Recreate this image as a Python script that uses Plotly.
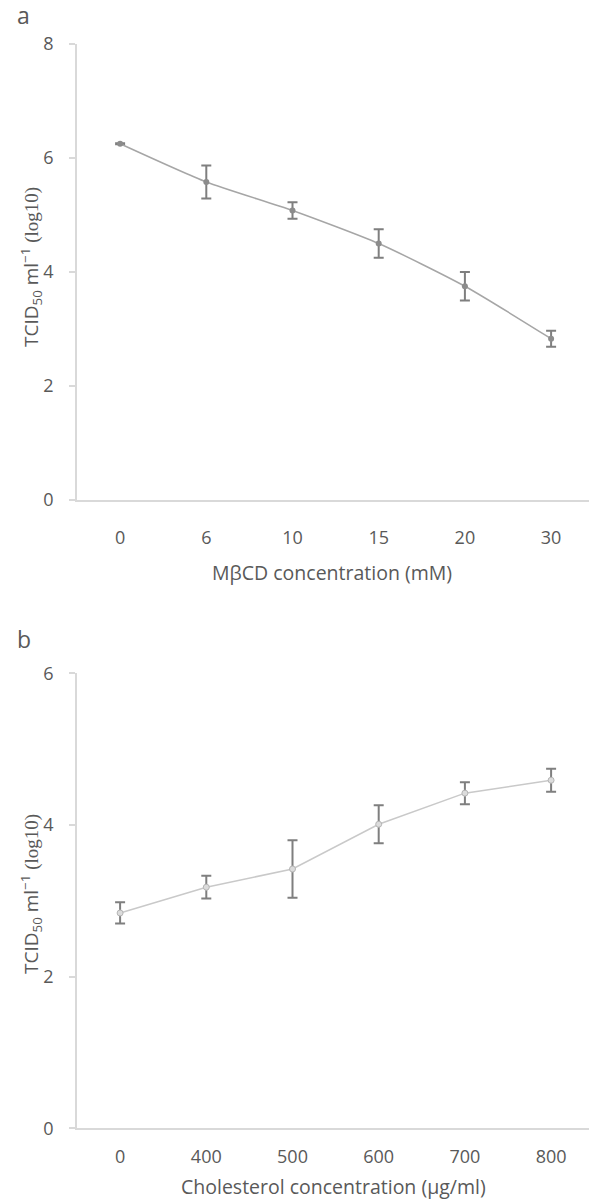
import plotly.graph_objects as go

# ---- data ----
mbcd_labels = ["0", "6", "10", "15", "20", "30"]
mbcd_values = [6.25, 5.58, 5.08, 4.50, 3.75, 2.83]
mbcd_err = [0.01, 0.29, 0.145, 0.25, 0.25, 0.14]

chol_labels = ["0", "400", "500", "600", "700", "800"]
chol_values = [2.84, 3.18, 3.42, 4.01, 4.42, 4.59]
chol_err = [0.14, 0.15, 0.38, 0.25, 0.145, 0.15]

W, H = 589, 1199
TXT = "#595959"
AXC = "#d9d9d9"
ERR = "#7f7f7f"
FONT = "Open Sans"

fig = go.Figure()

fig.add_trace(go.Scatter(
    x=mbcd_labels, y=mbcd_values, xaxis="x", yaxis="y",
    mode="lines+markers",
    line=dict(color="#a6a6a6", width=1.5, shape="spline", smoothing=0.6),
    marker=dict(color="#8c8c8c", size=6),
    error_y=dict(type="data", array=mbcd_err, color=ERR, thickness=2, width=5),
    showlegend=False,
))

fig.add_trace(go.Scatter(
    x=chol_labels, y=chol_values, xaxis="x2", yaxis="y2",
    mode="lines+markers",
    line=dict(color="#c9c9c9", width=1.5),
    marker=dict(color="#dcdcdc", size=6, line=dict(color="#b5b5b5", width=1)),
    error_y=dict(type="data", array=chol_err, color=ERR, thickness=2, width=5),
    showlegend=False,
))

x0 = 77 / W
step_px = 86.2
xr_hi = -0.5 + (W - 77) / step_px

common_x = dict(
    type="category", showgrid=False, zeroline=False, automargin=False,
    showline=True, linecolor=AXC, linewidth=1.5,
    ticks="",
    tickfont=dict(family=FONT, size=18, color=TXT),
    domain=[x0, 1], range=[-0.5, xr_hi], fixedrange=True,
)
common_y = dict(
    showgrid=False, zeroline=False, showline=True, linecolor=AXC, linewidth=1.5,
    automargin=False,
    ticks="outside", ticklen=6, tickcolor=AXC, tickwidth=1.5,
    ticklabelstandoff=12, dtick=2,
    tickfont=dict(family=FONT, size=18, color=TXT),
)

fig.update_layout(
    width=W, height=H,
    margin=dict(l=0, r=0, t=0, b=0, autoexpand=False),
    paper_bgcolor="white", plot_bgcolor="white",
    xaxis=dict(common_x, anchor="y", ticklabelstandoff=21),
    yaxis=dict(common_y, anchor="x", range=[0, 8],
               domain=[1 - 500 / H, 1 - 44 / H]),
    xaxis2=dict(common_x, anchor="y2", ticklabelstandoff=11),
    yaxis2=dict(common_y, anchor="x2", range=[0, 6],
                domain=[1 - 1128.4 / H, 1 - 673.3 / H]),
)

ytitle = ("TCID<sub>50</sub> ml<sup>\u22121</sup> "
          "<span style='font-family:Liberation Serif'>(log10)</span>")

anns = [
    dict(text="a", x=23 / W, y=1 - 15 / H, font=dict(size=23)),
    dict(text="b", x=24 / W, y=1 - 639 / H, font=dict(size=23)),
    dict(text=ytitle, x=31 / W, y=1 - 267 / H, textangle=-90, font=dict(size=19)),
    dict(text=ytitle, x=31 / W, y=1 - 894 / H, textangle=-90, font=dict(size=19)),
    dict(text="M\u03b2CD concentration (mM)", x=332 / W, y=1 - 572 / H, font=dict(size=19.5)),
    dict(text="Cholesterol concentration (\u00b5g/ml)", x=333 / W, y=1 - 1186 / H, font=dict(size=19.5)),
]
for a in anns:
    f = dict(family=FONT, color=TXT)
    f.update(a.pop("font"))
    fig.add_annotation(xref="paper", yref="paper", xanchor="center", yanchor="middle",
                       showarrow=False, font=f, **a)

fig.write_html("out.html")
